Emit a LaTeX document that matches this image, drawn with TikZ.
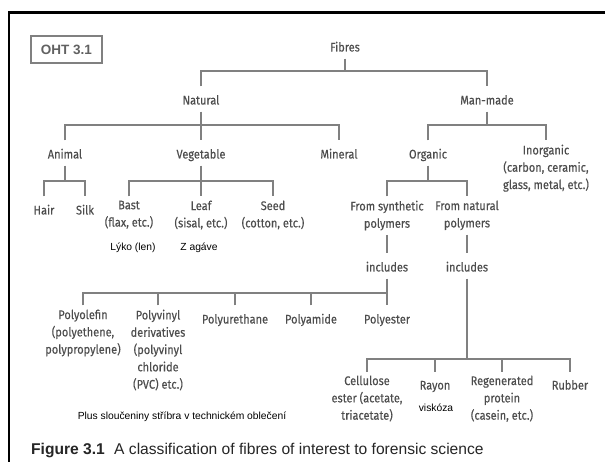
\documentclass[tikz,border=0pt]{standalone}
\usepackage{fontspec}
\setmainfont{Liberation Sans}
\newfontfamily\condfont[FakeStretch=0.88,FakeBold=0.25]{Fira Sans}
\definecolor{txtgray}{HTML}{4D4D4D}
\definecolor{linegray}{HTML}{808080}
\begin{document}
\begin{tikzpicture}[x=1pt,y=-1pt,
  lbl/.style={anchor=north, align=center, inner xsep=2pt, inner ysep=4pt,
    text=txtgray, font=\condfont\fontsize{12.5}{17.3}\selectfont,
    execute at begin node={\rule[-3pt]{0pt}{16.8pt}}},
  note/.style={anchor=center, inner sep=1pt, text=black, font=\fontsize{10.3}{12}\selectfont},
  conn/.style={draw=linegray, line width=1.4pt},
  frameline/.style={draw=black, line width=2.2pt}]
\useasboundingbox[fill=white] (0,0) rectangle (605,462);
% frame
\coordinate (fa) at (9,462);
\coordinate (fb) at (9,12.5);
\coordinate (fc) at (605,12.5);
\draw[frameline] (fa) -- (fb) -- (fc);
% OHT box
\node[draw=linegray, line width=1.2pt, minimum width=71pt, minimum height=27pt, text=black!62,
  font=\bfseries\fontsize{13.5}{16}\selectfont] (oht) at (66.5,49.5) {OHT 3.1};
% level 1-2 (node north = text centre - 13.5)
\node[lbl] (fibres) at (345,33.5) {Fibres};
\node[lbl] (natural) at (201,86.5) {Natural};
\node[lbl] (manmade) at (487,86.5) {Man-made};
% level 3
\node[lbl] (animal) at (65,140.5) {Animal};
\node[lbl] (vegetable) at (201,140.5) {Vegetable};
\node[lbl] (mineral) at (339,140.5) {Mineral};
\node[lbl] (organic) at (428,140.5) {Organic};
\node[lbl] (inorganic) at (546,140.5) {Inorganic\\(carbon, ceramic,\\glass, metal, etc.)};
% level 4
\node[lbl] (hair) at (44,196.5) {Hair};
\node[lbl] (silk) at (85,196.5) {Silk};
\node[lbl] (bast) at (129,196.5) {Bast\\(flax, etc.)};
\node[lbl] (leaf) at (201,196.5) {Leaf\\(sisal, etc.)};
\node[lbl] (seed) at (273,196.5) {Seed\\(cotton, etc.)};
\node[lbl] (synth) at (387,196.5) {From synthetic\\polymers};
\node[lbl] (natpol) at (467,196.5) {From natural\\polymers};
\node[note] (lyko) at (133,248) {Lýko (len)};
\node[note] (agave) at (199,248) {Z agáve};
\node[lbl] (inc1) at (387,253.5) {includes};
\node[lbl] (inc2) at (467,253.5) {includes};
% level 5
\node[lbl] (polyolefin) at (83,305.5) {Polyolefin\\(polyethene,\\polypropylene)};
\node[lbl] (polyvinyl) at (158,305.5) {Polyvinyl\\derivatives\\(polyvinyl\\chloride\\(PVC) etc.)};
\node[lbl] (polyurethane) at (235,305.5) {Polyurethane};
\node[lbl] (polyamide) at (311,305.5) {Polyamide};
\node[lbl] (polyester) at (387,305.5) {Polyester};
% level 6
\node[lbl] (cellulose) at (367,371.5) {Cellulose\\ester (acetate,\\triacetate)};
\node[lbl] (rayon) at (435,371.5) {Rayon};
\node[lbl] (regen) at (502,371.5) {Regenerated\\protein\\(casein, etc.)};
\node[lbl] (rubber) at (570,371.5) {Rubber};
\node[note] (viskoza) at (436,408) {viskóza};
\node[note] (plus) at (182,417) {Plus sloučeniny stříbra v technickém oblečení};
% caption
\node[anchor=west, inner sep=0pt, text=black!85, font=\fontsize{15.6}{17}\selectfont] (caption) at (31,450)
  {\textbf{Figure 3.1}\hspace{0.6em}A classification of fibres of interest to forensic science};
% bar coordinates
\coordinate (b1) at (345,71);
\coordinate (b2) at (201,125);
\coordinate (b3) at (487,125);
\coordinate (b4) at (65,181);
\coordinate (b5) at (201,181);
\coordinate (b6) at (428,181);
\coordinate (b7) at (387,293);
\coordinate (b8) at (467,359);
% connectors
\draw[conn] (fibres.south) -- (b1);
\draw[conn] (natural.north) |- (b1) -| (manmade.north);
\draw[conn] (natural.south) -- (vegetable.north);
\draw[conn] (animal.north) |- (b2) -| (mineral.north);
\draw[conn] (manmade.south) -- (b3);
\draw[conn] (organic.north) |- (b3) -| (inorganic.north);
\draw[conn] (animal.south) -- (b4);
\draw[conn] (hair.north) |- (b4) -| (silk.north);
\draw[conn] (vegetable.south) -- (leaf.north);
\draw[conn] (bast.north) |- (b5) -| (seed.north);
\draw[conn] (organic.south) -- (b6);
\draw[conn] (synth.north) |- (b6) -| (natpol.north);
\draw[conn] (synth.south) -- (inc1.north);
\draw[conn] (inc1.south) -- (polyester.north);
\draw[conn] (polyolefin.north) |- (b7);
\foreach \n in {polyvinyl,polyurethane,polyamide}
  \draw[conn] (\n.north) -- (\n.north |- b7);
\draw[conn] (natpol.south) -- (inc2.north);
\draw[conn] (inc2.south) -- (b8);
\draw[conn] (cellulose.north) |- (b8) -| (rubber.north);
\foreach \n in {rayon,regen}
  \draw[conn] (\n.north) -- (\n.north |- b8);
\end{tikzpicture}
\end{document}
